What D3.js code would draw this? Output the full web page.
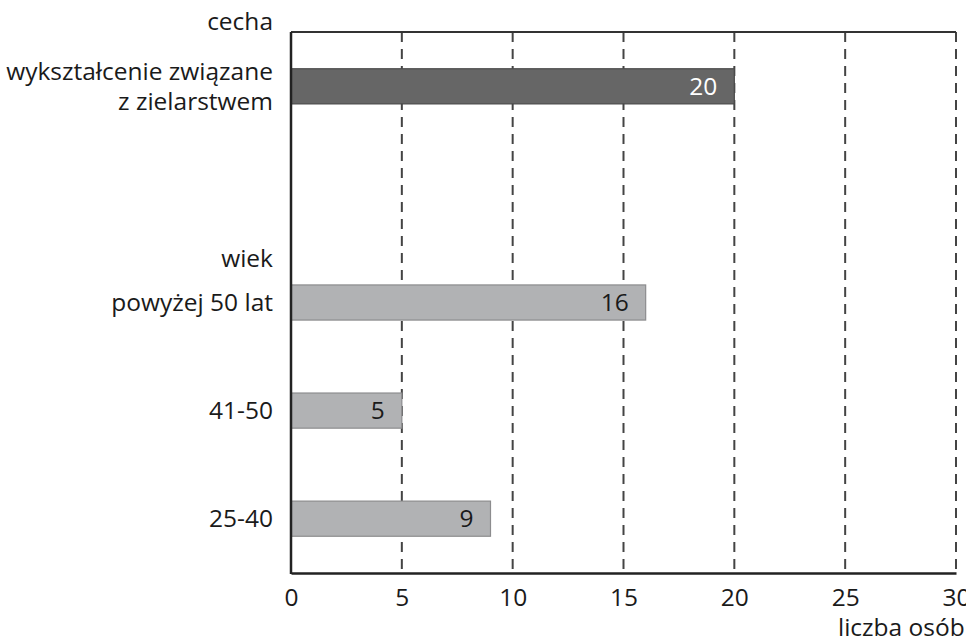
<!DOCTYPE html>
<html><head><meta charset="utf-8">
<script src="https://cdn.jsdelivr.net/npm/d3@7"></script>
<style>body{margin:0;background:#fff}svg{display:block}text{font-family:"Open Sans",Lato,sans-serif;fill:#1a1a1a;font-weight:500}</style>
</head><body><svg id="c" width="966" height="637"></svg>
<script>
const categories = ["wykształcenie związane\nz zielarstwem", "", "powyżej 50 lat", "41-50", "25-40"];
const values = [20, null, 16, 5, 9];
const groups = ["cecha", "cecha", "wiek", "wiek", "wiek"];
const tickValues = [0, 5, 10, 15, 20, 25, 30];
const groupHeaders = [{label: "cecha", after: -1}, {label: "wiek", after: 1}];
const xTitle = "liczba osób";

(function(){
const FS = 24.5;
const svg = d3.select("#c");
const mL = 291, mR = 956, mT = 32, mB = 573;
const LX = 273;
const x = d3.scaleLinear().domain([0, 30]).range([mL, mR]);
const y = d3.scaleBand().domain(categories.map((c,i)=>i)).range([mT, mB]).paddingInner(0.675).paddingOuter(0.34);

// grid
svg.append("g").selectAll("line").data(tickValues.filter(t=>t>0)).join("line")
  .attr("x1", d=>x(d)).attr("x2", d=>x(d)).attr("y1", mT).attr("y2", mB)
  .attr("stroke", "#444").attr("stroke-width", 2).attr("stroke-dasharray", "10,7");

// bars
const data = categories.map((c,i)=>({c, i, v: values[i], g: groups[i]})).filter(d=>d.v!=null);
svg.append("g").selectAll("rect").data(data).join("rect")
  .attr("x", x(0)).attr("y", d=>y(d.i)).attr("width", d=>x(d.v)-x(0)).attr("height", y.bandwidth())
  .attr("fill", d=>d.g==="cecha" ? "#666666" : "#b1b2b4")
  .attr("stroke", d=>d.g==="cecha" ? "#4a4a4a" : "#8c8c8e").attr("stroke-width", 1.2);

svg.append("g").selectAll("text").data(data).join("text")
  .attr("x", d=>x(d.v)-17).attr("y", d=>y(d.i)+y.bandwidth()/2).attr("dy", "0.34em")
  .attr("text-anchor", "end").attr("font-size", FS)
  .style("fill", d=>d.g==="cecha" ? "#fff" : "#1a1a1a").text(d=>d.v);

// top border
svg.append("line").attr("x1", mL).attr("x2", mR).attr("y1", mT).attr("y2", mT)
  .attr("stroke", "#333").attr("stroke-width", 2);

// x axis
const xAxis = d3.axisBottom(x).tickValues(tickValues).tickSize(0).tickPadding(16);
const gx = svg.append("g").attr("transform", `translate(0,${mB})`).call(xAxis);
gx.select(".domain").attr("stroke", "#222").attr("stroke-width", 2.5);
gx.selectAll("text").attr("font-size", FS).style("font-family", "'Open Sans',sans-serif").style("fill", "#1a1a1a");

// y axis line
svg.append("line").attr("x1", mL).attr("x2", mL).attr("y1", mT).attr("y2", mB+1)
  .attr("stroke", "#222").attr("stroke-width", 2.5);

// category labels
const lab = svg.append("g").attr("font-size", FS).attr("text-anchor", "end");
categories.forEach((c,i)=>{
  if(!c) return;
  const lines = c.split("\n");
  const cy = y(i) + y.bandwidth()/2;
  lines.forEach((l,k)=>lab.append("text").attr("x", LX)
    .attr("y", cy - (lines.length-1)*14.5 + k*29.5).attr("dy", "0.34em").text(l));
});
// group headers
groupHeaders.forEach(h=>{
  const yy = h.after < 0 ? mT - 2 : y(h.after+1) + y.bandwidth()/2 - 36;
  lab.append("text").attr("x", LX).attr("y", yy).text(h.label);
});

svg.append("text").attr("x", 838).attr("y", 636).attr("font-size", FS).text(xTitle);
})();
</script></body></html>
